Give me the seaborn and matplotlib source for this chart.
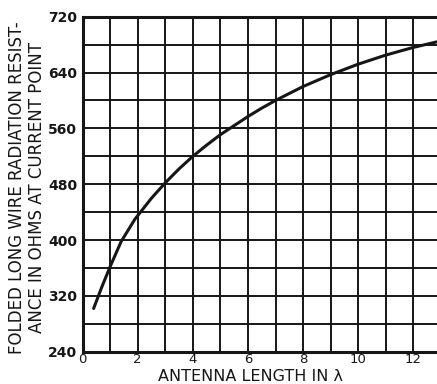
import numpy as np
import pandas as pd
import seaborn as sns
import matplotlib
matplotlib.use("Agg")
import matplotlib.pyplot as plt

# waarden
length_lambda = [0.4, 0.7, 1.0, 1.4, 1.9, 2.5, 3.0, 3.5, 4.0, 4.5, 5.0, 5.5,
                 6.0, 6.5, 7.0, 8.0, 9.0, 10.0, 11.0, 12.0, 12.86]
resistance = [302, 333, 362, 398, 430, 460, 482, 502, 520, 536, 551, 564,
              577, 589, 600, 620, 637, 652, 665, 676, 684]

x_ticks = [0, 2, 4, 6, 8, 10, 12]
y_ticks = [240, 320, 400, 480, 560, 640, 720]

df = pd.DataFrame({"length": length_lambda, "ohm": resistance})

sns.set_theme(style="white")
plt.rcParams["font.family"] = ["DejaVu Sans"]

ink = "#161616"
fig = plt.figure(figsize=(4.37, 3.84), dpi=100)
ax = fig.add_axes([0.189, 0.084, 0.811, 0.8725])

sns.lineplot(data=df, x="length", y="ohm", color=ink, linewidth=2.2, ax=ax)

ax.set_xlim(0, 12.86)
ax.set_ylim(240, 720)

# raster: elke 1 lambda en elke 40 ohm
ax.set_xticks(range(0, 13), minor=True)
ax.set_yticks(range(240, 721, 40), minor=True)
ax.set_xticks(x_ticks)
ax.set_yticks(y_ticks)
ax.grid(True, which="both", color=ink, linewidth=1.4)
ax.set_axisbelow(True)

ax.tick_params(which="both", length=0)
ax.tick_params(axis="y", pad=4, labelsize=10, colors=ink)
ax.tick_params(axis="x", pad=0.8, labelsize=9.5, colors=ink)
for t in ax.get_yticklabels():
    t.set_fontweight("bold")

for side in ["left", "bottom", "top"]:
    ax.spines[side].set_color(ink)
    ax.spines[side].set_linewidth(2.2)
ax.spines["right"].set_visible(False)

ax.set_xlabel("ANTENNA LENGTH IN λ", fontsize=11.5, color=ink, va="baseline")
ax.xaxis.set_label_coords(0.4735, -0.0885)
ax.set_ylabel("FOLDED LONG WIRE RADIATION RESIST-\nANCE IN OHMS AT CURRENT POINT",
              fontsize=12, color=ink, linespacing=1.15)
ax.yaxis.set_label_coords(-0.104, 0.489)

fig.savefig("out.png", dpi=100)
